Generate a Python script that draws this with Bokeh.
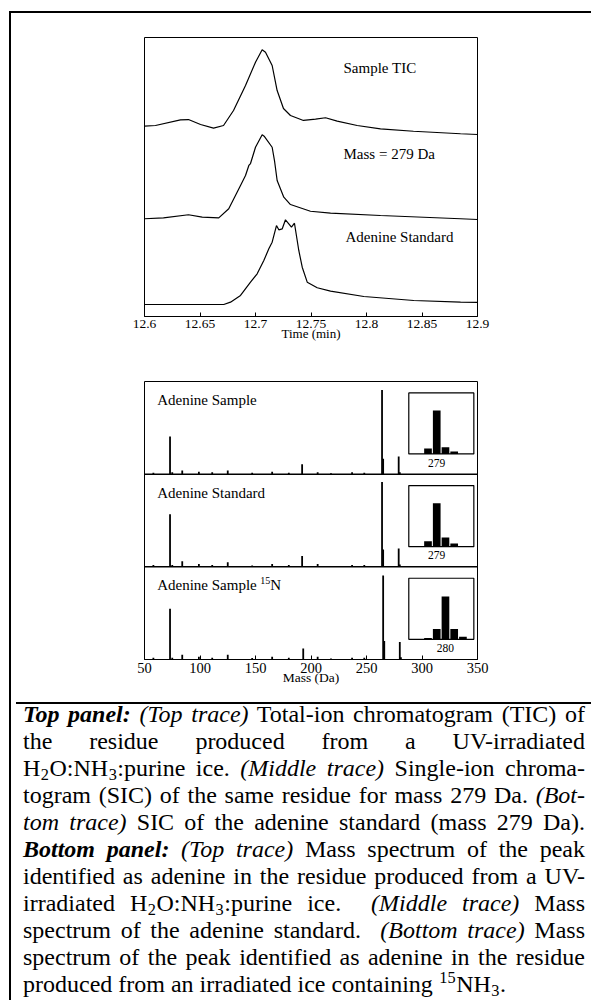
from bokeh.plotting import figure
from bokeh.layouts import column
from bokeh.models import Range1d, Span, Div, FixedTicker
from bokeh.core.properties import value
from bokeh.embed import file_html
from bokeh.resources import INLINE

SERIF = "Liberation Serif"

# ---------------- Chromatograms: time (min) vs relative intensity (%) ----------------
tic_time = [12.6, 12.6099, 12.6324, 12.6396, 12.6505, 12.6622, 12.6712, 12.6802, 12.6910,
            12.7000, 12.7060, 12.7090, 12.7150, 12.7195, 12.7252, 12.7315, 12.7432, 12.7541,
            12.7631, 12.7736, 12.7916, 12.8126, 12.8423, 12.8847, 12.9]
tic_int = [14.6, 15.4, 21.5, 21.8, 16.5, 12.5, 15.4, 31.5, 58.4,
           83.4, 96.8, 94.2, 79.9, 53.0, 33.7, 26.1, 20.8, 22.2,
           23.7, 20.0, 15.4, 11.8, 9.2, 6.5, 5.7]

sic_time = [12.6, 12.6171, 12.6396, 12.6520, 12.6669, 12.6759, 12.6865, 12.6910, 12.6940,
            12.6955, 12.7000, 12.7060, 12.7081, 12.7150, 12.7171, 12.7195, 12.7255, 12.7315,
            12.7495, 12.7676, 12.8126, 12.8847, 12.9]
sic_int = [10.1, 11.1, 14.4, 11.8, 11.1, 20.8, 45.9, 56.6, 67.4,
           69.5, 87.0, 100.4, 98.5, 87.0, 72.7, 51.2, 33.3, 25.4,
           18.2, 16.1, 13.6, 10.1, 9.3]

std_time = [12.6, 12.6714, 12.6775, 12.6865, 12.6955, 12.7015, 12.7075, 12.7120, 12.7150,
            12.7189, 12.7210, 12.7241, 12.7270, 12.7300, 12.7324, 12.7351, 12.7390, 12.7421,
            12.7466, 12.7556, 12.7676, 12.7976, 12.8426, 12.8847, 12.9]
std_int = [12.9, 12.9, 15.4, 22.6, 36.9, 45.9, 60.2, 72.8, 79.9,
           97.8, 93.2, 94.3, 104.0, 99.7, 96.0, 100.3, 71.0, 53.0,
           36.9, 30.9, 27.2, 21.5, 17.2, 15.4, 15.1]

trace_names = ["Sample TIC", "Mass = 279 Da", "Adenine Standard"]
trace_offsets = [190, 95, 0]
trace_label_time = [12.7793, 12.7793, 12.7811]
trace_label_level = [267, 175, 85]

time_ticks = [12.6, 12.65, 12.7, 12.75, 12.8, 12.85, 12.9]
time_tick_labels = ["12.6", "12.65", "12.7", "12.75", "12.8", "12.85", "12.9"]

# ---------------- Mass spectra: m/z (Da) vs relative abundance (%) ----------------
sample_mz = [58, 73, 75, 84, 99, 111, 125, 147, 165, 180, 192, 206, 218, 237, 248, 264, 265, 279, 280]
sample_ab = [1.5, 40.6, 2, 4, 2.5, 2, 4, 1.5, 2.5, 1.5, 10.8, 2, 1, 2, 1.5, 90.9, 16.6, 19, 2]

standard_mz = [58, 73, 75, 84, 99, 111, 125, 147, 165, 180, 192, 206, 218, 237, 248, 264, 265, 279, 280]
standard_ab = [2, 56.7, 2, 6, 3, 2, 5, 1.5, 3, 2, 11.8, 3, 1, 2, 2, 91.5, 18.7, 19.8, 2.5]

n15_mz = [58, 73, 75, 84, 99, 111, 125, 147, 165, 180, 193, 206, 218, 237, 248, 265, 266, 280, 281]
n15_ab = [2, 54.9, 2, 5, 3, 2, 5, 1.5, 3, 2, 11.8, 3, 1, 2, 2, 90.7, 20, 19, 2.5]

spectrum_names = ["Adenine Sample", "Adenine Standard", "Adenine Sample "]
spectrum_bases = [200, 100, 0]

# Molecular-ion clusters shown in the insets
iso_mz = [277, 278, 279, 280, 281, 282]
sample_iso = [0, 9, 71, 11, 4, 0]
standard_iso = [0, 9, 71, 15, 5, 0]
n15_iso = [0, 2, 17, 70, 17, 4]
iso_labels = ["279", "279", "280"]
iso_label_mz = [279, 279, 280]

mass_ticks = [50, 100, 150, 200, 250, 300, 350]
mass_tick_labels = ["50", "100", "150", "200", "250", "300", "350"]

MASS_RANGE = (50, 350)
LEVEL_RANGE = (0, 300)

# inset placement: m/z window of the inset, its box on the main mass axis,
# and its vertical extent above each panel baseline
INSET_WINDOW = (275.8, 283.25)
INSET_BOX_X = (288.1, 346.7)
INSET_BOX_Y = (21.8, 87.7)


def style_axis(ax, size):
    ax.major_tick_in = 4
    ax.major_tick_out = 0
    ax.minor_tick_line_color = None
    ax.axis_line_color = "black"
    ax.major_tick_line_color = "black"
    ax.major_label_text_font = SERIF
    ax.major_label_text_font_size = size
    ax.major_label_text_color = "black"
    ax.axis_label_text_font = SERIF
    ax.axis_label_text_font_style = "normal"
    ax.axis_label_text_color = "black"


# ---------------- Top panel: chromatograms ----------------
pa = figure(width=577, height=335, x_range=Range1d(12.6, 12.9), y_range=Range1d(*LEVEL_RANGE),
            output_backend="svg", toolbar_location=None,
            min_border_left=133, min_border_right=111, min_border_top=24, min_border_bottom=32)
pa.yaxis.visible = False
pa.grid.visible = False
pa.outline_line_color = "black"
pa.outline_line_width = 1
style_axis(pa.xaxis[0], "13.5px")
pa.xaxis.ticker = FixedTicker(ticks=time_ticks)
pa.xaxis.major_label_overrides = dict(zip(time_ticks, time_tick_labels))
pa.xaxis.major_label_standoff = 3
pa.xaxis.axis_label = "Time (min)"
pa.xaxis.axis_label_text_font_size = "13px"
pa.xaxis.axis_label_standoff = -5

for t, y, off in zip([tic_time, sic_time, std_time], [tic_int, sic_int, std_int], trace_offsets):
    pa.line(t, [off + v for v in y], line_color="black", line_width=1.2)

pa.text(x=trace_label_time, y=trace_label_level, text=trace_names,
        text_font=value(SERIF), text_font_size="15px", text_color="black",
        text_baseline="middle", text_align="left")

# ---------------- Bottom panel: stacked mass spectra ----------------
pb = figure(width=577, height=349, x_range=Range1d(*MASS_RANGE), y_range=Range1d(*LEVEL_RANGE),
            output_backend="svg", toolbar_location=None,
            min_border_left=133, min_border_right=111, min_border_top=33, min_border_bottom=38)
pb.yaxis.visible = False
pb.grid.visible = False
pb.outline_line_color = "black"
pb.outline_line_width = 1
style_axis(pb.xaxis[0], "14.5px")
pb.xaxis.ticker = FixedTicker(ticks=mass_ticks)
pb.xaxis.major_label_overrides = dict(zip(mass_ticks, mass_tick_labels))
pb.xaxis.major_label_standoff = 3
pb.xaxis.axis_label = "Mass (Da)"
pb.xaxis.axis_label_text_font_size = "13.5px"
pb.xaxis.axis_label_standoff = -6

for base in spectrum_bases[:-1]:
    pb.add_layout(Span(location=base, dimension="width", line_color="black", line_width=1.5))

for mz, ab, base in zip([sample_mz, standard_mz, n15_mz], [sample_ab, standard_ab, n15_ab], spectrum_bases):
    pb.segment(x0=mz, y0=[base] * len(mz), x1=mz, y1=[base + a for a in ab],
               line_color="black", line_width=1.8)

pb.text(x=[61.4] * 3, y=[b + 80 for b in spectrum_bases], text=spectrum_names,
        text_font=value(SERIF), text_font_size="15px", text_color="black",
        text_baseline="middle", text_align="left")
# isotope superscript for the 15N trace
pb.text(x=[61.4], y=[spectrum_bases[2] + 80], text=["15"], x_offset=103, y_offset=-5,
        text_font=value(SERIF), text_font_size="10px", text_color="black",
        text_baseline="middle", text_align="left")
pb.text(x=[61.4], y=[spectrum_bases[2] + 80], text=["N"], x_offset=113,
        text_font=value(SERIF), text_font_size="15px", text_color="black",
        text_baseline="middle", text_align="left")

# inset coordinate systems (one shared m/z range, one level range per panel)
sx = (INSET_BOX_X[1] - INSET_BOX_X[0]) / (INSET_WINDOW[1] - INSET_WINDOW[0])
pb.extra_x_ranges = {"iso": Range1d(INSET_WINDOW[0] + (MASS_RANGE[0] - INSET_BOX_X[0]) / sx,
                                    INSET_WINDOW[0] + (MASS_RANGE[1] - INSET_BOX_X[0]) / sx)}
extra_y = {}
for k, base in enumerate(spectrum_bases):
    lo = base + INSET_BOX_Y[0]
    hi = base + INSET_BOX_Y[1]
    sy = (hi - lo) / 100.0
    extra_y[f"iso{k}"] = Range1d((LEVEL_RANGE[0] - lo) / sy, (LEVEL_RANGE[1] - lo) / sy)
pb.extra_y_ranges = extra_y

for k, (vals, lab, lab_mz) in enumerate(zip([sample_iso, standard_iso, n15_iso], iso_labels, iso_label_mz)):
    rn = f"iso{k}"
    pb.quad(left=[INSET_WINDOW[0]], right=[INSET_WINDOW[1]], bottom=[0], top=[100],
            fill_color="white", line_color="black", line_width=1.2,
            x_range_name="iso", y_range_name=rn)
    pb.vbar(x=iso_mz, top=vals, bottom=0, width=0.88, fill_color="black", line_color=None,
            x_range_name="iso", y_range_name=rn)
    pb.text(x=[lab_mz], y=[-14], text=[lab], text_font=value(SERIF), text_font_size="11.5px",
            text_color="black", text_baseline="middle", text_align="center",
            x_range_name="iso", y_range_name=rn)

# ---------------- Caption ----------------
caption_lines = [
    '<b><i>Top panel:</i></b> <i>(Top trace)</i> Total-ion chromatogram (TIC) of',
    'the residue produced from a UV-irradiated',
    'H<sub>2</sub>O:NH<sub>3</sub>:purine ice. <i>(Middle trace)</i> Single-ion chroma-',
    'togram (SIC) of the same residue for mass 279 Da. <i>(Bot-</i>',
    '<i>tom trace)</i> SIC of the adenine standard (mass 279 Da).',
    '<b><i>Bottom panel:</i></b> <i>(Top trace)</i> Mass spectrum of the peak',
    'identified as adenine in the residue produced from a UV-',
    'irradiated H<sub>2</sub>O:NH<sub>3</sub>:purine ice.&nbsp; <i>(Middle trace)</i> Mass',
    'spectrum of the adenine standard.&nbsp; <i>(Bottom trace)</i> Mass',
    'spectrum of the peak identified as adenine in the residue',
    'produced from an irradiated ice containing <sup>15</sup>NH<sub>3</sub>.',
]
line_css = "text-align:justify;text-align-last:justify;white-space:nowrap;"
last_css = "text-align:left;white-space:nowrap;"
body = "".join(
    f'<div style="{last_css if i == len(caption_lines) - 1 else line_css}">{ln}</div>'
    for i, ln in enumerate(caption_lines)
)
html = (
    "<style>sub,sup{font-size:0.68em;line-height:0;margin:0 0.5px;}sub{vertical-align:-0.25em;}"
    "sup{vertical-align:0.55em;}</style>"
    f'<div style="font-family:\'{SERIF}\';font-size:24px;line-height:27px;color:black;'
    f'width:562px;margin-top:-3px;">{body}</div>'
)
caption = Div(text=html, width=577, height=301,
              styles={"border-top": "2px solid black", "padding": "0 8px 0 7px",
                      "box-sizing": "border-box", "overflow": "hidden"})

layout = column(pa, pb, caption, margin=(11, 0, 0, 9),
                styles={"border-left": "2px solid black", "border-top": "2px solid black",
                        "border-right": "2px solid black"})

open("out.html", "w").write(file_html(layout, INLINE))
